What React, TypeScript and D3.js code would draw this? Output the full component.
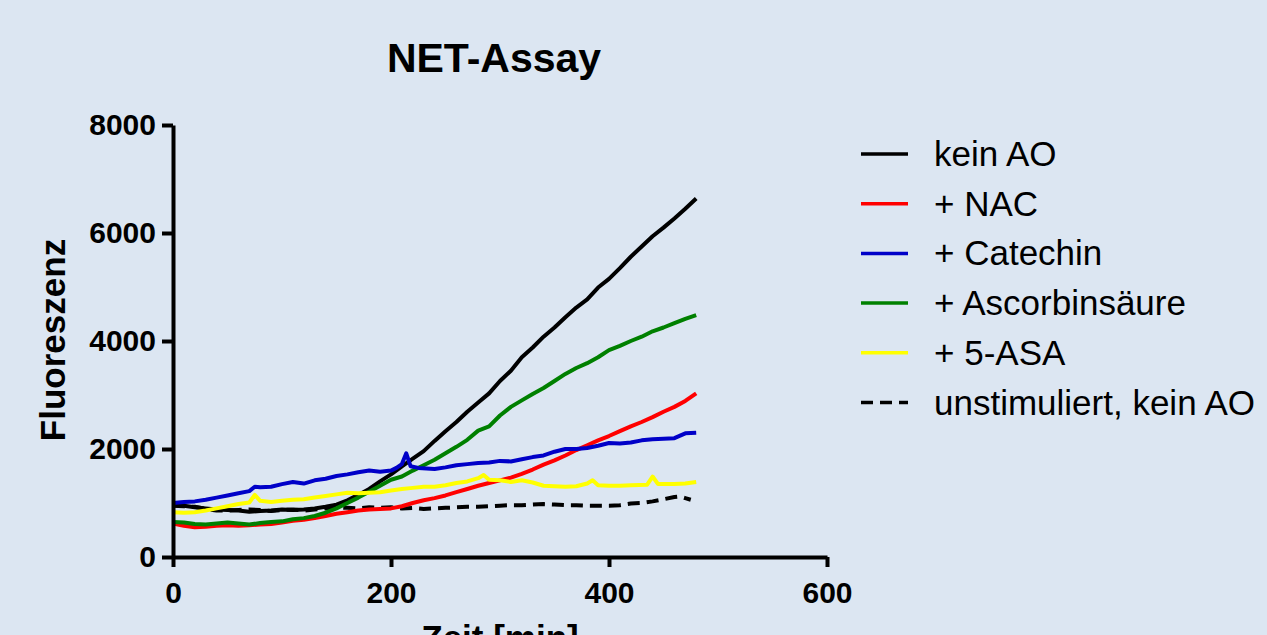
import React, { useRef, useEffect } from 'react';
import * as d3 from 'd3';

// Zeit [min] / Fluoreszenz
const keinAO: [number, number][] = [
  [0, 960], [10, 950], [20, 920], [30, 900], [40, 880], [50, 870], [60, 860], [70, 840], [80, 850],
  [90, 860], [100, 880], [110, 870], [120, 880], [130, 900], [140, 930], [150, 970], [160, 1050],
  [170, 1150], [180, 1260], [190, 1400], [200, 1530], [210, 1680], [220, 1820], [230, 1960],
  [240, 2150], [250, 2330], [260, 2500], [270, 2690], [280, 2860], [290, 3030], [300, 3260],
  [310, 3450], [320, 3700], [330, 3880], [340, 4080], [350, 4250], [360, 4440], [370, 4620],
  [380, 4770], [390, 4990], [400, 5150], [410, 5350], [420, 5560], [430, 5750], [440, 5940],
  [450, 6100], [460, 6270], [470, 6450], [480, 6640],
];

const nac: [number, number][] = [
  [0, 620], [10, 580], [20, 550], [30, 560], [40, 580], [50, 590], [60, 580], [70, 590], [80, 600],
  [90, 610], [100, 640], [110, 670], [120, 690], [130, 720], [140, 760], [150, 800], [160, 830],
  [170, 860], [180, 880], [190, 890], [200, 900], [210, 940], [220, 1000], [230, 1050], [240, 1090],
  [250, 1140], [260, 1200], [270, 1260], [280, 1320], [290, 1370], [300, 1420], [310, 1470],
  [320, 1540], [330, 1620], [340, 1710], [350, 1790], [360, 1880], [370, 1980], [380, 2070],
  [390, 2160], [400, 2240], [410, 2330], [420, 2420], [430, 2500], [440, 2590], [450, 2690],
  [460, 2780], [470, 2890], [480, 3030],
];

const catechin: [number, number][] = [
  [0, 1000], [10, 1020], [20, 1030], [30, 1060], [40, 1100], [50, 1140], [60, 1180], [70, 1220],
  [75, 1300], [80, 1290], [90, 1300], [100, 1350], [110, 1390], [120, 1360], [130, 1420], [140, 1450],
  [150, 1500], [160, 1530], [170, 1570], [180, 1600], [190, 1580], [200, 1600], [205, 1650],
  [210, 1720], [214, 1920], [218, 1680], [225, 1650], [240, 1630], [250, 1660], [260, 1700],
  [270, 1720], [280, 1740], [290, 1750], [300, 1780], [310, 1770], [320, 1810], [330, 1850],
  [340, 1880], [350, 1950], [360, 2000], [370, 2000], [380, 2020], [390, 2060], [400, 2110],
  [410, 2100], [420, 2120], [430, 2160], [440, 2180], [450, 2190], [460, 2200], [470, 2290], [480, 2300],
];

const ascorbinsaeure: [number, number][] = [
  [0, 650], [10, 640], [20, 610], [30, 600], [40, 620], [50, 640], [60, 620], [70, 600], [80, 630],
  [90, 650], [100, 660], [110, 700], [120, 720], [130, 760], [140, 820], [150, 900], [160, 1000],
  [170, 1100], [180, 1210], [190, 1320], [200, 1430], [210, 1490], [220, 1600], [230, 1700],
  [240, 1800], [250, 1920], [260, 2040], [270, 2170], [280, 2340], [290, 2420], [300, 2620],
  [310, 2780], [320, 2900], [330, 3020], [340, 3130], [350, 3260], [360, 3390], [370, 3500],
  [380, 3590], [390, 3700], [400, 3830], [410, 3910], [420, 4000], [430, 4080], [440, 4180],
  [450, 4250], [460, 4330], [470, 4410], [480, 4480],
];

const asa5: [number, number][] = [
  [0, 830], [10, 820], [20, 830], [30, 860], [40, 900], [50, 940], [60, 980], [70, 1010], [75, 1150],
  [80, 1040], [90, 1020], [100, 1040], [110, 1060], [120, 1070], [130, 1100], [140, 1130], [150, 1160],
  [160, 1190], [170, 1180], [180, 1190], [190, 1200], [200, 1230], [210, 1260], [220, 1280],
  [230, 1300], [240, 1300], [250, 1330], [260, 1370], [270, 1400], [280, 1460], [285, 1520],
  [290, 1430], [300, 1420], [310, 1390], [320, 1420], [330, 1380], [340, 1320], [350, 1310],
  [360, 1300], [370, 1310], [380, 1360], [385, 1420], [390, 1330], [400, 1320], [410, 1320],
  [420, 1330], [435, 1340], [440, 1490], [445, 1350], [460, 1350], [470, 1360], [480, 1390],
];

const unstimuliert: [number, number][] = [
  [0, 950], [10, 940], [20, 930], [30, 890], [40, 860], [50, 860], [60, 870], [70, 880], [80, 870],
  [90, 850], [100, 870], [110, 880], [120, 860], [130, 880], [140, 900], [150, 920], [160, 910],
  [170, 900], [180, 920], [190, 910], [200, 920], [210, 900], [220, 910], [230, 890], [240, 900],
  [250, 910], [260, 920], [270, 930], [280, 930], [290, 940], [300, 950], [310, 960], [320, 960],
  [330, 970], [340, 980], [350, 970], [360, 960], [370, 960], [380, 950], [390, 950], [400, 950],
  [410, 960], [420, 990], [430, 1000], [440, 1030], [450, 1070], [460, 1110], [465, 1120],
  [470, 1090], [475, 1060],
];

const seriesNames = ['kein AO', '+ NAC', '+ Catechin', '+ Ascorbinsäure', '+ 5-ASA', 'unstimuliert, kein AO'];
const seriesData = [keinAO, nac, catechin, ascorbinsaeure, asa5, unstimuliert];
const seriesColors = ['#000000', '#ff0000', '#0000c8', '#008000', '#ffff00', '#000000'];
const xTicks = [0, 200, 400, 600];
const yTicks = [0, 2000, 4000, 6000, 8000];

const FONT = '"Liberation Sans", Arial, Helvetica, sans-serif';

const NetAssayChart = () => {
  const chartRef = useRef<SVGSVGElement | null>(null);

  useEffect(() => {
    if (!chartRef.current) return;
    const svg = d3.select(chartRef.current);
    svg.selectAll('*').remove();

    const width = 1267;
    const height = 635;
    const margin = { top: 125, left: 173 };
    const plotW = 654;
    const plotH = 432;

    svg.append('rect').attr('width', width).attr('height', height).attr('fill', '#dce6f2');

    const x = d3.scaleLinear().domain([0, 600]).range([0, plotW]);
    const y = d3.scaleLinear().domain([0, 8000]).range([plotH, 0]);

    const g = svg.append('g').attr('transform', `translate(${margin.left},${margin.top})`);

    // title
    svg.append('text')
      .attr('x', 494).attr('y', 72)
      .attr('text-anchor', 'middle')
      .style('font-family', FONT).style('font-weight', 'bold').style('font-size', '41px')
      .text('NET-Assay');

    // lines
    const line = d3.line<[number, number]>()
      .x((d) => x(d[0]))
      .y((d) => y(d[1]));

    const drawOrder = [5, 0, 1, 3, 4, 2];
    drawOrder.forEach((i) => {
      g.append('path')
        .datum(seriesData[i])
        .attr('fill', 'none')
        .attr('stroke', seriesColors[i])
        .attr('stroke-width', 4)
        .attr('stroke-linejoin', 'round')
        .attr('stroke-dasharray', i === 5 ? '12,7' : null)
        .attr('d', line);
    });

    // axes
    const yAxis = g.append('g')
      .call(d3.axisLeft(y).tickValues(yTicks).tickFormat(d3.format('d')).tickSize(11).tickSizeOuter(0).tickPadding(6));
    const xAxis = g.append('g')
      .attr('transform', `translate(0,${plotH})`)
      .call(d3.axisBottom(x).tickValues(xTicks).tickFormat(d3.format('d')).tickSize(10).tickSizeOuter(0).tickPadding(15));

    [yAxis, xAxis].forEach((ax) => {
      ax.select('.domain').attr('stroke-width', 4).attr('stroke', '#000');
      ax.selectAll('.tick line').attr('stroke-width', 4).attr('stroke', '#000');
      ax.selectAll('.tick text')
        .attr('fill', '#000')
        .style('font-family', FONT).style('font-weight', 'bold').style('font-size', '30px');
    });

    // axis titles
    svg.append('text')
      .attr('transform', `translate(65,${340}) rotate(-90)`)
      .attr('text-anchor', 'middle')
      .style('font-family', FONT).style('font-weight', 'bold').style('font-size', '35px')
      .text('Fluoreszenz');

    svg.append('text')
      .attr('x', 500).attr('y', 650)
      .attr('text-anchor', 'middle')
      .style('font-family', FONT).style('font-weight', 'bold').style('font-size', '35px')
      .text('Zeit [min]');

    // legend
    const legend = svg.append('g').attr('transform', 'translate(861,154)');
    seriesNames.forEach((name, i) => {
      const row = legend.append('g').attr('transform', `translate(0,${i * 49.7})`);
      row.append('line')
        .attr('x1', 0).attr('x2', 47).attr('y1', 0).attr('y2', 0)
        .attr('stroke', seriesColors[i])
        .attr('stroke-width', 3.5)
        .attr('stroke-dasharray', i === 5 ? '12,7' : null);
      row.append('text')
        .attr('x', 73).attr('y', 12)
        .style('font-family', FONT).style('font-size', '35px')
        .attr('fill', '#000')
        .text(name);
    });
  }, []);

  return <svg ref={chartRef} width={1267} height={635} style={{ display: 'block' }} />;
};

export default function App() {
  useEffect(() => {
    document.body.style.margin = '0';
  }, []);
  return <NetAssayChart />;
}
